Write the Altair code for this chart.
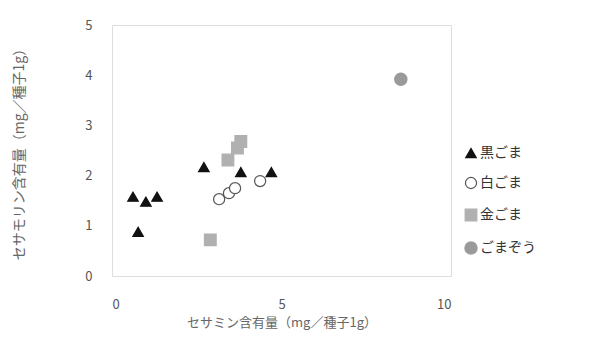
import altair as alt
import pandas as pd

kinds = ["黒ごま", "白ごま", "金ごま", "ごまぞう"]

black_x = [0.62, 0.77, 1.0, 1.33, 2.71, 3.8, 4.7]
black_y = [1.58, 0.88, 1.48, 1.58, 2.17, 2.07, 2.07]
white_x = [3.16, 3.45, 3.63, 4.37]
white_y = [1.53, 1.65, 1.75, 1.89]
gold_x = [2.9, 3.42, 3.7, 3.8]
gold_y = [0.72, 2.31, 2.55, 2.68]
zou_x = [8.52]
zou_y = [3.92]

rows = []
for k, xs, ys in zip(kinds, [black_x, white_x, gold_x, zou_x], [black_y, white_y, gold_y, zou_y]):
    for a, b in zip(xs, ys):
        rows.append({"kind": k, "x": a, "y": b})
df = pd.DataFrame(rows)

font = "Noto Sans CJK JP"

leg = alt.Legend(title=None, orient="none", legendX=352, legendY=121,
                 labelFont=font, labelFontSize=14, labelColor="#333333",
                 rowPadding=15, symbolStrokeWidth=1.2, labelOffset=2)

chart = alt.Chart(df).mark_point(filled=True, opacity=1, strokeWidth=1.2).encode(
    x=alt.X("x:Q", scale=alt.Scale(domain=[0, 10], nice=False),
            axis=alt.Axis(values=[0, 5, 10], title="セサミン含有量（mg／種子1g）",
                          grid=False, domain=False, ticks=False, labelPadding=22,
                          labelFontSize=13, labelColor="#555555", labelFont=font,
                          titleFont=font, titleFontSize=13, titleColor="#666666",
                          titleFontWeight="normal", titlePadding=5)),
    y=alt.Y("y:Q", scale=alt.Scale(domain=[0, 5], nice=False),
            axis=alt.Axis(values=[0, 1, 2, 3, 4, 5], title="セサモリン含有量（mg／種子1g）",
                          grid=False, domain=False, ticks=False, labelPadding=20,
                          labelFontSize=13, labelColor="#555555", labelFont=font,
                          titleFont=font, titleFontSize=14, titleColor="#666666",
                          titleFontWeight="normal", titlePadding=58)),
    shape=alt.Shape("kind:N", scale=alt.Scale(domain=kinds, range=["triangle-up", "circle", "square", "circle"]),
                    legend=leg),
    fill=alt.Fill("kind:N", scale=alt.Scale(domain=kinds, range=["#111111", "#ffffff", "#b0b0b0", "#9a9a9a"]),
                  legend=leg),
    stroke=alt.Stroke("kind:N", scale=alt.Scale(domain=kinds, range=["#111111", "#555555", "#b0b0b0", "#9a9a9a"]),
                      legend=leg),
    size=alt.Size("kind:N", scale=alt.Scale(domain=kinds, range=[110, 150, 160, 330]), legend=leg),
).properties(
    width=339, height=251,
    autosize=alt.AutoSizeParams(type="none"),
    padding={"left": 104, "top": 17, "right": 138, "bottom": 59},
).configure_view(
    stroke="#a0a0a0", strokeWidth=3
).configure(background="white")

chart.save("out.html", embed_options={"renderer": "svg", "actions": False})
